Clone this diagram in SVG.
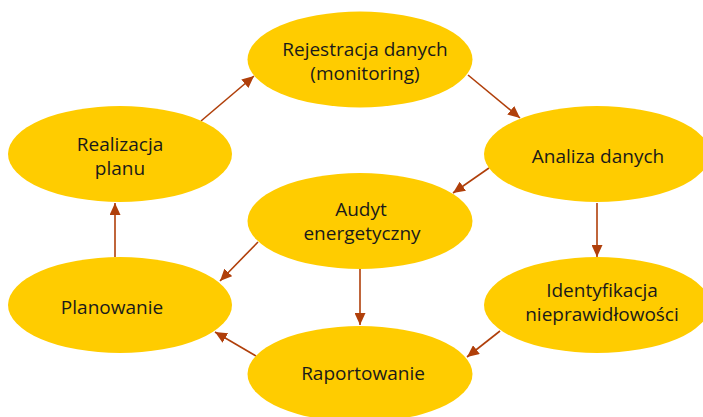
<svg xmlns="http://www.w3.org/2000/svg" width="703" height="417" viewBox="0 0 703 417">
<defs>
<marker id="ah" viewBox="0 0 12 11" refX="12" refY="5.5" markerWidth="12" markerHeight="11" markerUnits="userSpaceOnUse" orient="auto">
<path d="M0,0 L12,5.5 L0,11 z" fill="#B03F0A"/>
</marker>
<style>
.n ellipse{fill:#FFCC00}
.n text{font-family:"Open Sans","Noto Sans",sans-serif;font-size:19px;fill:#1a1a1a;text-anchor:middle}
.c line{stroke:#B03F0A;stroke-width:1.6;fill:none;marker-end:url(#ah)}
</style>
</defs>
<rect width="703" height="417" fill="#ffffff"/>
<g class="c" id="connectors">
<line x1="201" y1="121" x2="254" y2="76"/>
<line x1="468" y1="75" x2="520" y2="118"/>
<line x1="489" y1="168" x2="453" y2="193"/>
<line x1="597" y1="203" x2="597" y2="257"/>
<line x1="500" y1="331" x2="467" y2="357"/>
<line x1="360" y1="269" x2="360" y2="325"/>
<line x1="258" y1="242" x2="220" y2="281"/>
<line x1="256" y1="356" x2="215" y2="332"/>
<line x1="115" y1="257" x2="115" y2="203"/>
</g>
<g class="n" id="rejestracja">
<ellipse cx="360" cy="59.5" rx="112.5" ry="48"/>
<text x="365" y="55.5">Rejestracja danych</text>
<text x="365" y="79.5">(monitoring)</text>
</g>
<g class="n" id="analiza">
<ellipse cx="597" cy="154" rx="113" ry="48"/>
<text x="598" y="163">Analiza danych</text>
</g>
<g class="n" id="realizacja">
<ellipse cx="120" cy="154" rx="112" ry="48"/>
<text x="120" y="150.5">Realizacja</text>
<text x="120" y="174.5">planu</text>
</g>
<g class="n" id="audyt">
<ellipse cx="360" cy="221" rx="112.5" ry="48"/>
<text x="361" y="216">Audyt</text>
<text x="362" y="240">energetyczny</text>
</g>
<g class="n" id="planowanie">
<ellipse cx="120" cy="305" rx="112" ry="48"/>
<text x="112" y="314">Planowanie</text>
</g>
<g class="n" id="identyfikacja">
<ellipse cx="597" cy="305" rx="113" ry="48"/>
<text x="602" y="297">Identyfikacja</text>
<text x="602" y="321">nieprawidłowości</text>
</g>
<g class="n" id="raportowanie">
<ellipse cx="360" cy="374" rx="112.5" ry="48"/>
<text x="363" y="380">Raportowanie</text>
</g>
</svg>
